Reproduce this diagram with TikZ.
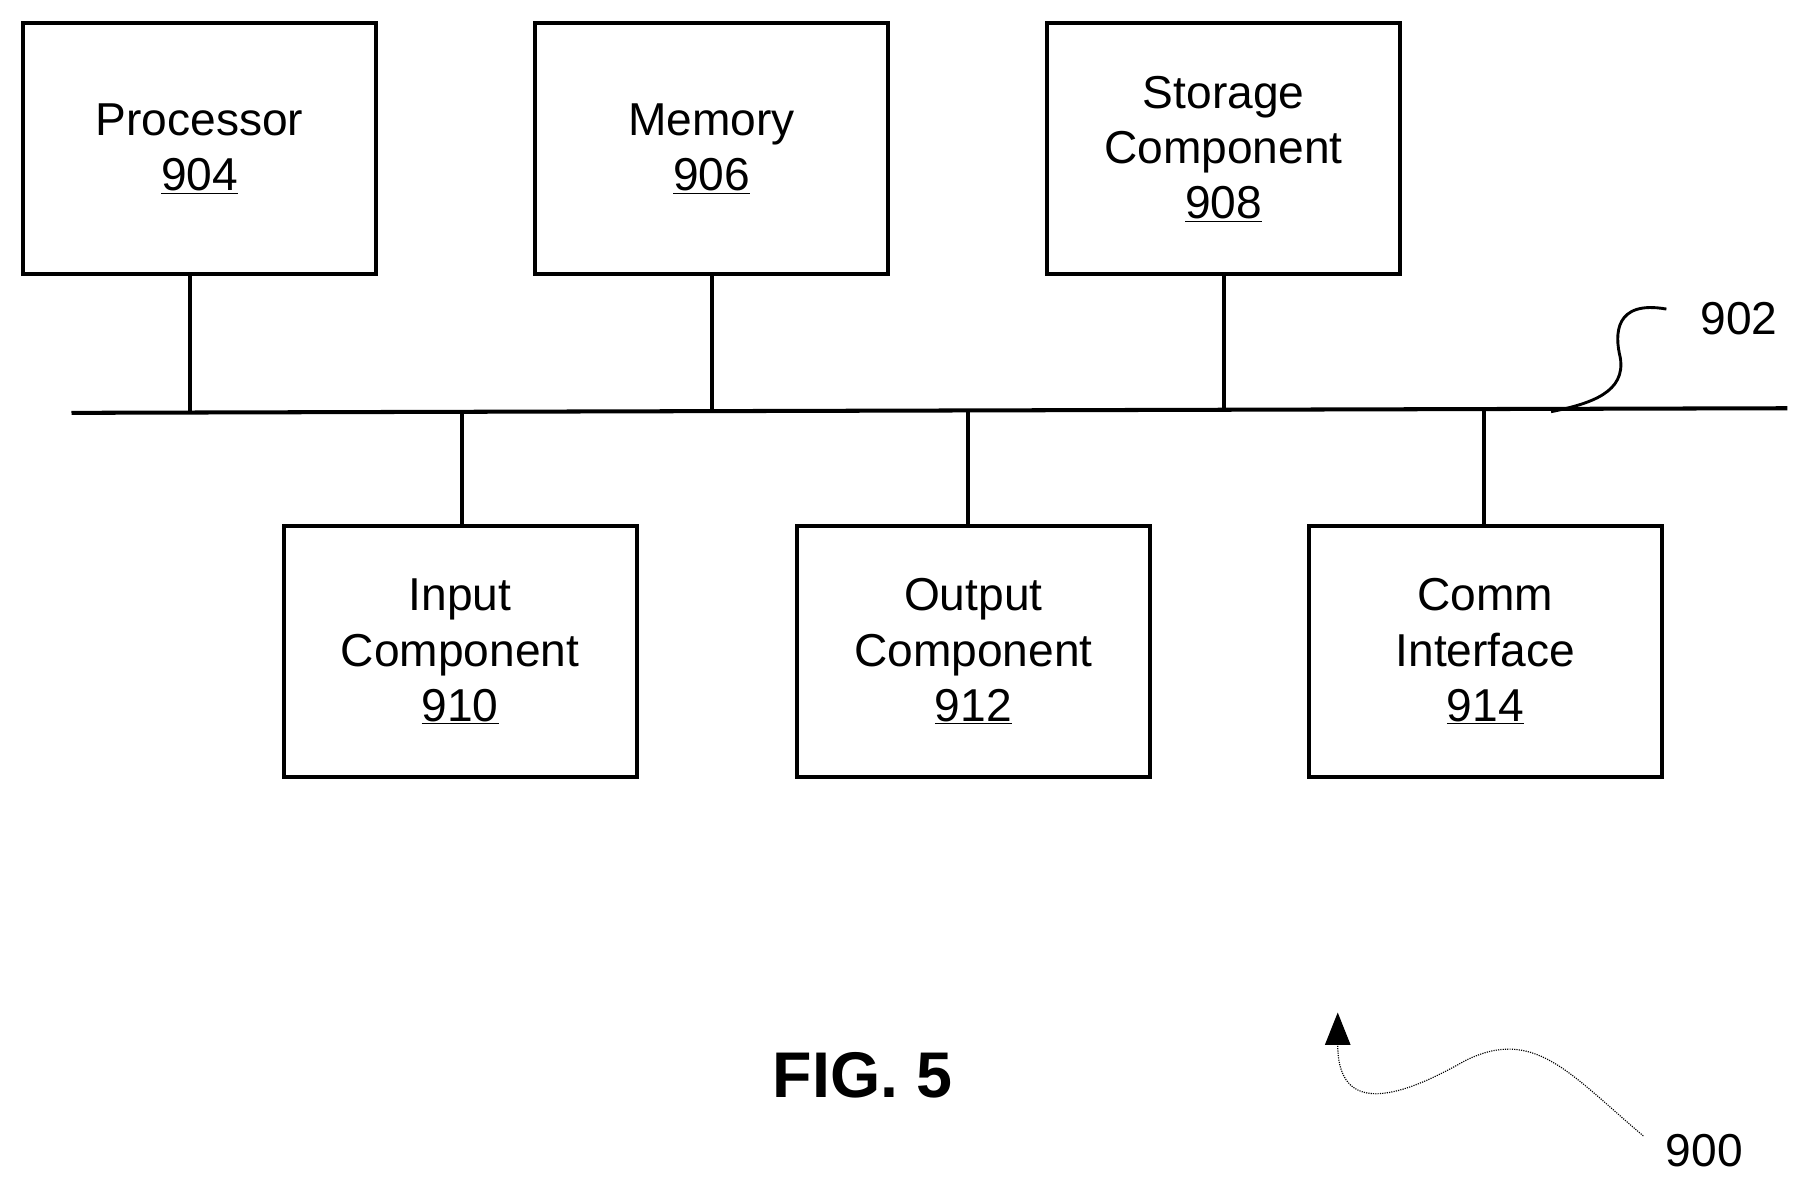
\documentclass[tikz,border=0pt]{standalone}
\usepackage{fontspec}
\setmainfont{Liberation Sans}
\usetikzlibrary{arrows.meta}
\begin{document}
\begin{tikzpicture}[x=1pt,y=-1pt,
  box/.style={draw,line width=3.5pt,minimum width=306pt,minimum height=218pt,align=center,font=\fontsize{40}{48}\selectfont},
  ln/.style={line width=3.5pt}]
\useasboundingbox (0,0) rectangle (1560,1027);
\node[box] (p) at (173,129) {Processor\\\underline{904}};
\node[box] (m) at (617,129) {Memory\\\underline{906}};
\node[box] (s) at (1061,129) {Storage\\Component\\\underline{908}};
\node[box] (i) at (399,565) {Input\\Component\\\underline{910}};
\node[box] (o) at (844,565) {Output\\Component\\\underline{912}};
\node[box] (c) at (1288,565) {Comm\\Interface\\\underline{914}};
\coordinate (bl) at (62,358); \coordinate (br) at (1550,354);
\draw[ln] (bl) -- (br);
\draw[ln] (165,238) -- (165,358);
\draw[ln] (617,238) -- (617,357);
\draw[ln] (1061,238) -- (1061,355);
\draw[ln] (401,358) -- (401,456);
\draw[ln] (839,357) -- (839,456);
\draw[ln] (1287,355) -- (1287,456);
\node[font=\fontsize{40}{48}\selectfont] (l902) at (1508,276) {902};
\draw[line width=2.5pt] (1445,268) .. controls (1400,260) and (1400,290) .. (1405,310) .. controls (1410,340) and (1380,350) .. (1345,357);
\node[font=\bfseries\fontsize{56}{60}\selectfont] (fig) at (748,932) {FIG. 5};
\node[font=\fontsize{40}{48}\selectfont] (l900) at (1478,998) {900};
\draw[line width=1pt,densely dotted,-{Triangle[length=28pt,width=22pt]}] (1425,985) .. controls (1360,930) and (1330,890) .. (1270,920) .. controls (1200,960) and (1160,960) .. (1160,878);
\end{tikzpicture}
\end{document}
